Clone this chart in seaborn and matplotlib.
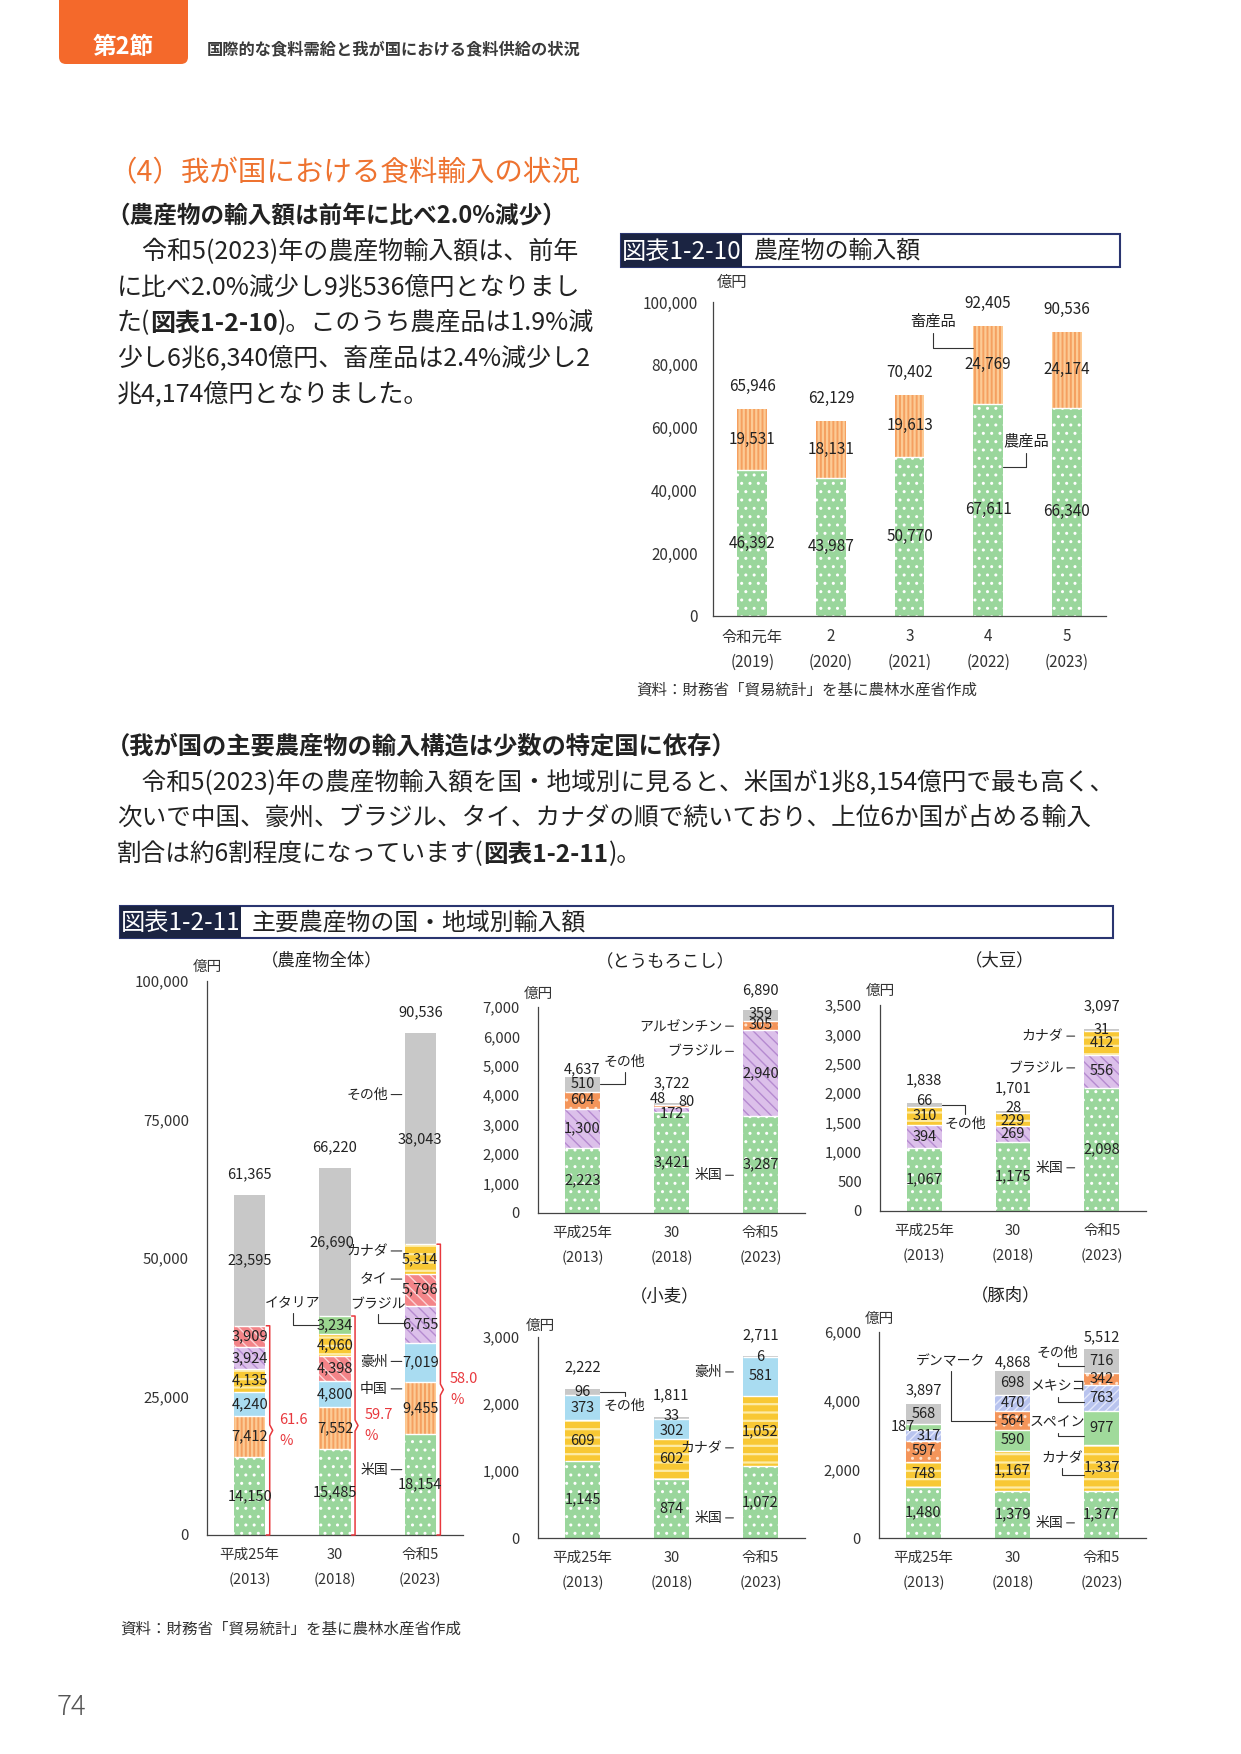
import matplotlib
matplotlib.use('Agg')
import matplotlib.pyplot as plt
from matplotlib.patches import Rectangle, FancyBboxPatch
from matplotlib.ticker import FuncFormatter
import numpy as np
import pandas as pd
import seaborn as sns

W, H = 1241, 1754

# === 図表1-2-10 農産物の輸入額 ===
years_1210 = ['令和元年\n(2019)', '2\n(2020)', '3\n(2021)', '4\n(2022)', '5\n(2023)']
nousanhin = [46392, 43987, 50770, 67611, 66340]
chikusanhin = [19531, 18131, 19613, 24769, 24174]
total_1210 = [65946, 62129, 70402, 92405, 90536]

# === 図表1-2-11 主要農産物の国・地域別輸入額 ===
years_1211 = ['平成25年\n(2013)', '30\n(2018)', '令和5\n(2023)']

zentai_countries = [
    ['米国', '中国', '豪州', 'カナダ', 'ブラジル', 'タイ', 'その他'],
    ['米国', '中国', '豪州', 'タイ', 'カナダ', 'イタリア', 'その他'],
    ['米国', '中国', '豪州', 'ブラジル', 'タイ', 'カナダ', 'その他'],
]
zentai_values = [
    [14150, 7412, 4240, 4135, 3924, 3909, 23595],
    [15485, 7552, 4800, 4398, 4060, 3234, 26690],
    [18154, 9455, 7019, 6755, 5796, 5314, 38043],
]
zentai_total = [61365, 66220, 90536]
zentai_share = ['61.6', '59.7', '58.0']

corn_countries = [['米国', 'ブラジル', 'アルゼンチン', 'その他']] * 3
corn_values = [[2223, 1300, 604, 510], [3421, 172, 80, 48], [3287, 2940, 305, 359]]
corn_total = [4637, 3722, 6890]

soy_countries = [['米国', 'ブラジル', 'カナダ', 'その他']] * 3
soy_values = [[1067, 394, 310, 66], [1175, 269, 229, 28], [2098, 556, 412, 31]]
soy_total = [1838, 1701, 3097]

wheat_countries = [['米国', 'カナダ', '豪州', 'その他']] * 3
wheat_values = [[1145, 609, 373, 96], [874, 602, 302, 33], [1072, 1052, 581, 6]]
wheat_total = [2222, 1811, 2711]

pork_countries = [
    ['米国', 'カナダ', 'デンマーク', 'メキシコ', 'スペイン', 'その他'],
    ['米国', 'カナダ', 'スペイン', 'デンマーク', 'メキシコ', 'その他'],
    ['米国', 'カナダ', 'スペイン', 'メキシコ', 'デンマーク', 'その他'],
]
pork_values = [
    [1480, 748, 597, 317, 187, 568],
    [1379, 1167, 590, 564, 470, 698],
    [1377, 1337, 977, 763, 342, 716],
]
pork_total = [3897, 4868, 5512]

# 塗り色, ハッチ, ハッチ色
GREEN_DOT = ('#9ad69c', '..', 'white')
ORANGE_STRIPE = ('#f5a060', '||||', '#fccb95')
ORANGE_DOT = ('#f4955a', '..', '#fde3cf')
STYLE = {
    '農産品': GREEN_DOT,
    '畜産品': ORANGE_STRIPE,
    '米国': GREEN_DOT,
    '中国': ORANGE_STRIPE,
    '豪州': ('#a9dcf1', None, '#a9dcf1'),
    'カナダ': ('#f8c834', '--', '#fdeba6'),
    'ブラジル': ('#dcc0ea', '\\\\\\', '#b58ad0'),
    'タイ': ('#f38488', '\\\\\\', '#fbd3d5'),
    'その他': ('#c8c8c8', None, '#c8c8c8'),
    'イタリア': ('#9bd690', None, '#9bd690'),
    'スペイン': ('#a0da9b', None, '#a0da9b'),
    'アルゼンチン': ORANGE_DOT,
    'デンマーク': ORANGE_DOT,
    'メキシコ': ('#b8c3ee', '////', '#e2e7fa'),
}
TXT = '#222222'
RED = '#e8383d'
NAVY = '#1b2442'

sns.set_style('white')
plt.rcParams['font.family'] = ['Noto Sans CJK JP', 'DejaVu Sans']


def px_axes(fig, x0, y0, x1, y1):
    return fig.add_axes([x0 / W, 1 - y1 / H, (x1 - x0) / W, (y1 - y0) / H])


def draw_stack(ax, years, countries, values, width):
    rows = []
    for i, (cs, vs) in enumerate(zip(countries, values)):
        base = 0
        for j, (c, v) in enumerate(zip(cs, vs)):
            rows.append({'year': years[i], 'idx': i, 'pos': j, 'country': c,
                         'value': v, 'bottom': base})
            base += v
    df = pd.DataFrame(rows)
    for c in dict.fromkeys(df['country']):
        sub = df[df['country'] == c].sort_values('idx')
        face, hatch, hc = STYLE[c]
        hlw = 1.6 if hatch and hatch[0] in '|-' else 1.0
        with plt.rc_context({'hatch.linewidth': hlw}):
            sns.barplot(data=sub, x='year', y='value', order=years, width=width,
                        bottom=sub['bottom'].to_numpy(), color=face, saturation=1,
                        hatch=hatch, edgecolor=hc, linewidth=0, errorbar=None, ax=ax)
    # 区切りの白線
    seps = df[df['pos'] > 0]
    ax.hlines(seps['bottom'], seps['idx'] - width / 2, seps['idx'] + width / 2,
              color='white', lw=1, zorder=3)
    return df


def style_axes(ax, n, ymax, step, pad, years, label_dy, tsize, xsize):
    ax.set_xlim(-0.5, n - 0.5)
    ax.set_ylim(0, ymax)
    ax.set_yticks(np.arange(0, ymax + 1, step))
    ax.yaxis.set_major_formatter(FuncFormatter(lambda v, p: f'{v:,.0f}'))
    ax.tick_params(axis='y', direction='in', length=4, width=0.8, pad=pad,
                   labelsize=tsize, colors='#333333')
    ax.set_xticks([])
    ax.set_xlabel('')
    ax.set_ylabel('')
    for s in ['top', 'right']:
        ax.spines[s].set_visible(False)
    for s in ['left', 'bottom']:
        ax.spines[s].set_color('#444444')
        ax.spines[s].set_linewidth(0.9)
    ax.patch.set_alpha(0)
    for i, lab in enumerate(years):
        for k, line in enumerate(lab.split('\n')):
            ax.annotate(line, xy=(i, 0), xycoords=ax.get_xaxis_transform(),
                        xytext=(0, label_dy[k]), textcoords='offset points',
                        ha='center', va='center', fontsize=xsize, color='#333333',
                        annotation_clip=False)


def value_labels(ax, df, size, offsets=None):
    offsets = offsets or {}
    for _, r in df.iterrows():
        off = offsets.get((r['idx'], r['country']), (0, 0))
        ax.annotate(f"{r['value']:,}", xy=(r['idx'], r['bottom'] + r['value'] / 2),
                    xytext=off, textcoords='offset points', ha='center', va='center',
                    fontsize=size, color=TXT, zorder=5, annotation_clip=False)


def total_labels(ax, df, totals, dys, size):
    tops = df.groupby('idx')['value'].sum()
    for i, t in enumerate(totals):
        ax.annotate(f'{t:,}', xy=(i, tops[i]), xytext=(0, dys[i]),
                    textcoords='offset points', ha='center', va='center',
                    fontsize=size, color=TXT, annotation_clip=False)


def seg_point(df, idx, country, frac, side, width):
    r = df[(df['idx'] == idx) & (df['country'] == country)].iloc[0]
    x = idx - width / 2 if side == 'left' else idx + width / 2
    return x, r['bottom'] + frac * r['value']


LINE = dict(arrowstyle='-', shrinkA=0, color='#333333', lw=0.8)


def dash_label(ax, df, idx, country, frac, width, size=10, off=15, gap=7):
    # 「米国—」型の短い引き出し線
    x, y = seg_point(df, idx, country, frac, 'left', width)
    ax.annotate(country, xy=(x, y), xytext=(-off, 0),
                textcoords='offset points', ha='right', va='center',
                fontsize=size, color=TXT, annotation_clip=False,
                arrowprops=dict(LINE, shrinkB=gap))


def elbow_label(ax, df, idx, country, frac, side, width, dx, dy, size=10):
    x, y = seg_point(df, idx, country, frac, side, width)
    ax.annotate(country, xy=(x, y), xytext=(dx, dy),
                textcoords='offset points', ha='center', va='center',
                fontsize=size, color=TXT, annotation_clip=False,
                arrowprops=dict(LINE, shrinkB=0,
                                connectionstyle='angle,angleA=90,angleB=0,rad=0'))


fig = plt.figure(figsize=(W / 100, H / 100), dpi=100)
bg = fig.add_axes([0, 0, 1, 1])
bg.set_xlim(0, W)
bg.set_ylim(H, 0)
bg.axis('off')


def rich_line(x, y, parts, size):
    prev = None
    for s, bold in parts:
        w = 'bold' if bold else 'normal'
        if prev is None:
            prev = bg.text(x, y, s, fontsize=size, fontweight=w, color=TXT, va='center')
        else:
            prev = bg.annotate(s, xy=(1, 0), xycoords=prev, fontsize=size, fontweight=w,
                               color=TXT, va='bottom', ha='left')


def fig_title(x0, x1, y0, y1, xsplit, label, title):
    bg.add_patch(Rectangle((x0, y0), x1 - x0, y1 - y0, facecolor='white',
                           edgecolor='#2a3570', lw=1.5))
    bg.add_patch(Rectangle((x0, y0), xsplit - x0, y1 - y0, facecolor=NAVY, edgecolor='none'))
    bg.text((x0 + xsplit) / 2, (y0 + y1) / 2 + 1, label, color='white', fontsize=17.5,
            ha='center', va='center')
    bg.text(xsplit + 11, (y0 + y1) / 2 + 1, title, color=TXT, fontsize=17.2, va='center')


# === ページヘッダ ===
bg.add_patch(FancyBboxPatch((59, -10), 129, 74, boxstyle='round,pad=0,rounding_size=7',
                            facecolor='#f4692b', edgecolor='none'))
bg.text(123, 47, '第2節', color='white', fontsize=17, fontweight='bold', ha='center', va='center')
bg.text(207, 49, '国際的な食料需給と我が国における食料供給の状況', color='#3a3a3a',
        fontsize=11.7, fontweight='bold', va='center')

bg.text(108, 173, '（4）我が国における食料輸入の状況', color='#ee7330', fontsize=20.5, va='center')
bg.text(106, 216, '（農産物の輸入額は前年に比べ2.0%減少）', color=TXT, fontsize=17,
        fontweight='bold', va='center')
body_top = [
    [('　令和5(2023)年の農産物輸入額は、前年', False)],
    [('に比べ2.0%減少し9兆536億円となりまし', False)],
    [('た(', False), ('図表1-2-10', True), (')。このうち農産品は1.9%減', False)],
    [('少し6兆6,340億円、畜産品は2.4%減少し2', False)],
    [('兆4,174億円となりました。', False)],
]
for k, parts in enumerate(body_top):
    rich_line(117, 252 + k * 35.5, parts, 18)

bg.text(106, 747, '（我が国の主要農産物の輸入構造は少数の特定国に依存）', color=TXT,
        fontsize=17.5, fontweight='bold', va='center')
body_mid = [
    [('　令和5(2023)年の農産物輸入額を国・地域別に見ると、米国が1兆8,154億円で最も高く、', False)],
    [('次いで中国、豪州、ブラジル、タイ、カナダの順で続いており、上位6か国が占める輸入', False)],
    [('割合は約6割程度になっています(', False), ('図表1-2-11', True), (')。', False)],
]
for k, parts in enumerate(body_mid):
    rich_line(117, 782 + k * 36, parts, 17.7)

# === 図表1-2-10 ===
fig_title(621, 1120, 234, 267, 742, '図表1-2-10', '農産物の輸入額')
bg.text(732, 282, '億円', fontsize=11, color='#333333', ha='center', va='center')
bg.text(636, 690, '資料：財務省「貿易統計」を基に農林水産省作成', fontsize=11.2, color='#333333',
        va='center')

ax_top = px_axes(fig, 713, 302, 1106, 616)
w_top = 0.38
df_top = draw_stack(ax_top, years_1210, [['農産品', '畜産品']] * 5,
                    [list(v) for v in zip(nousanhin, chikusanhin)], w_top)
style_axes(ax_top, 5, 100000, 20000, 11, years_1210, (-15, -33), 11, 11)
value_labels(ax_top, df_top, 11)
total_labels(ax_top, df_top, total_1210, [16] * 5, 11)
elbow_label(ax_top, df_top, 3, '畜産品', 0.72, 'left', w_top, -29, 19, size=11)
elbow_label(ax_top, df_top, 3, '農産品', 0.70, 'right', w_top, 16.5, 19, size=11)

# === 図表1-2-11 ===
fig_title(120, 1113, 906, 938, 241, '図表1-2-11', '主要農産物の国・地域別輸入額')
bg.text(120, 1629, '資料：財務省「貿易統計」を基に農林水産省作成', fontsize=11.2, color='#333333',
        va='center')
bg.text(57, 1707, '74', fontsize=20, color='#555555', fontweight='light', va='center')

panel_titles = [('（農産物全体）', 322, 960), ('（とうもろこし）', 665, 962), ('（大豆）', 1000, 960),
                ('（小麦）', 665, 1296), ('（豚肉）', 1006, 1295)]
for t, x, y in panel_titles:
    bg.text(x, y, t, fontsize=12.5, color=TXT, ha='center', va='center')
for x, y in [(207, 967), (538, 994), (880, 991), (540, 1326), (879, 1319)]:
    bg.text(x, y, '億円', fontsize=10.5, color='#333333', ha='center', va='center')

xlab_dy = (-14.5, -32.5)

# 農産物全体
ax_all = px_axes(fig, 207, 981, 463, 1535)
w_all = 0.37
df_all = draw_stack(ax_all, years_1211, zentai_countries, zentai_values, w_all)
style_axes(ax_all, 3, 100000, 25000, 13, years_1211, xlab_dy, 10.8, 10.5)
value_labels(ax_all, df_all, 10.5, {(1, 'その他'): (-2, 0)})
total_labels(ax_all, df_all, zentai_total, [15] * 3, 10.5)
for i, share in enumerate(zentai_share):
    top = sum(zentai_values[i][:-1])
    xr = i + w_all / 2
    xb = xr + 0.05
    mid = top / 2
    ax_all.plot([xr + 0.01, xb, xb, xb + 0.035, xb, xb, xr + 0.01],
                [top, top, mid + 1000, mid, mid - 1000, 0, 0],
                color=RED, lw=1.1, clip_on=False, zorder=4)
    ax_all.annotate(f'{share}\n%', xy=(xb, mid), xytext=(7, 0), textcoords='offset points',
                    ha='left', va='center', fontsize=10.5, color=RED, linespacing=1.7,
                    annotation_clip=False)
for c, f in [('その他', 0.71), ('カナダ', 0.77), ('タイ', 0.83), ('豪州', 0.53),
             ('中国', 0.87), ('米国', 0.65)]:
    dash_label(ax_all, df_all, 2, c, f, w_all, off=12, gap=2)
elbow_label(ax_all, df_all, 2, 'ブラジル', 0.53, 'left', w_all, -19, 14)
elbow_label(ax_all, df_all, 1, 'イタリア', 0.5, 'left', w_all, -19, 16)

# とうもろこし
ax_corn = px_axes(fig, 538, 1007, 805, 1213)
w_s = 0.39
df_corn = draw_stack(ax_corn, years_1211, corn_countries, corn_values, w_s)
style_axes(ax_corn, 3, 7000, 1000, 13, years_1211, xlab_dy, 10.7, 10.5)
value_labels(ax_corn, df_corn, 10.5, {(1, 'その他'): (-10, 3.6), (1, 'アルゼンチン'): (11, 3),
                                      (1, 'ブラジル'): (0, -3), (2, 'その他'): (0, 1)})
total_labels(ax_corn, df_corn, corn_total, [5.5, 14.5, 14], 10.5)
elbow_label(ax_corn, df_corn, 0, 'その他', 0.5, 'right', w_s, 18, 16)
dash_label(ax_corn, df_corn, 2, 'アルゼンチン', 0.4, w_s)
dash_label(ax_corn, df_corn, 2, 'ブラジル', 0.75, w_s)
dash_label(ax_corn, df_corn, 2, '米国', 0.39, w_s)

# 大豆
ax_soy = px_axes(fig, 880, 1005, 1146, 1211)
df_soy = draw_stack(ax_soy, years_1211, soy_countries, soy_values, w_s)
style_axes(ax_soy, 3, 3500, 500, 13, years_1211, xlab_dy, 10.7, 10.5)
value_labels(ax_soy, df_soy, 10.5, {(0, 'その他'): (0, 2.5), (1, 'その他'): (0, 3),
                                    (1, 'カナダ'): (0, -1.5)})
total_labels(ax_soy, df_soy, soy_total, [16] * 3, 10.5)
elbow_label(ax_soy, df_soy, 0, 'その他', 0.5, 'right', w_s, 17, -14)
dash_label(ax_soy, df_soy, 2, 'カナダ', 0.77, w_s)
dash_label(ax_soy, df_soy, 2, 'ブラジル', 0.6, w_s)
dash_label(ax_soy, df_soy, 2, '米国', 0.35, w_s)

# 小麦
ax_wheat = px_axes(fig, 538, 1337, 805, 1538)
df_wheat = draw_stack(ax_wheat, years_1211, wheat_countries, wheat_values, w_s)
style_axes(ax_wheat, 3, 3000, 1000, 13, years_1211, xlab_dy, 10.7, 10.5)
value_labels(ax_wheat, df_wheat, 10.5, {(1, 'その他'): (0, 1.5), (1, '豪州'): (0, -1.5)})
total_labels(ax_wheat, df_wheat, wheat_total, [15.5] * 3, 10.5)
elbow_label(ax_wheat, df_wheat, 0, 'その他', 0.5, 'right', w_s, 18, -10)
dash_label(ax_wheat, df_wheat, 2, '豪州', 0.61, w_s)
dash_label(ax_wheat, df_wheat, 2, 'カナダ', 0.26, w_s)
dash_label(ax_wheat, df_wheat, 2, '米国', 0.28, w_s)

# 豚肉
ax_pork = px_axes(fig, 879, 1332, 1146, 1538)
df_pork = draw_stack(ax_pork, years_1211, pork_countries, pork_values, w_s)
style_axes(ax_pork, 3, 6000, 2000, 13, years_1211, xlab_dy, 10.7, 10.5)
value_labels(ax_pork, df_pork, 10.5, {(0, 'スペイン'): (-15, 0), (0, 'メキシコ'): (3.6, 0)})
total_labels(ax_pork, df_pork, pork_total, [10, 6.5, 8.5], 10.5)
elbow_label(ax_pork, df_pork, 1, 'デンマーク', 0.5, 'left', w_s, -32, 43)
elbow_label(ax_pork, df_pork, 2, 'その他', 0.3, 'left', w_s, -19, 9.5)
elbow_label(ax_pork, df_pork, 2, 'メキシコ', 0.35, 'left', w_s, -19, 11)
elbow_label(ax_pork, df_pork, 2, 'スペイン', 0.25, 'left', w_s, -19, 10)
elbow_label(ax_pork, df_pork, 2, 'カナダ', 0.35, 'left', w_s, -16, 12)
dash_label(ax_pork, df_pork, 2, '米国', 0.32, w_s)

fig.savefig('out.png', dpi=100)
